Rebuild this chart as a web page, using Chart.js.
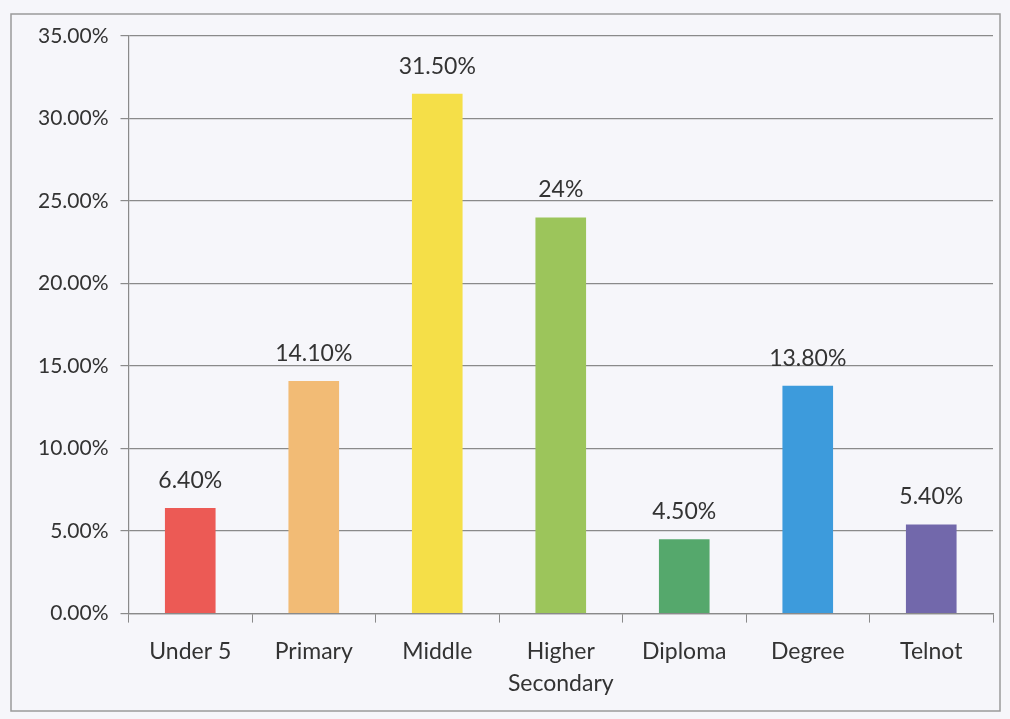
<!DOCTYPE html>
<html>
<head>
<meta charset="utf-8">
<script src="https://cdn.jsdelivr.net/npm/chart.js@4"></script>
<style>
  html, body { margin: 0; padding: 0; background: #f6f6fa; }
  #wrap { width: 1010px; height: 719px; position: relative; }
</style>
</head>
<body>
<div id="wrap"><canvas id="eduChart"></canvas></div>
<script>
const categories = ['Under 5', 'Primary', 'Middle', ['Higher', 'Secondary'], 'Diploma', 'Degree', 'Telnot'];
const shares = [0.064, 0.141, 0.315, 0.24, 0.045, 0.138, 0.054];
const valueLabels = ['6.40%', '14.10%', '31.50%', '24%', '4.50%', '13.80%', '5.40%'];
const barColors = ['#ec5a55', '#f2bb75', '#f5df48', '#9cc55b', '#55a86c', '#3d9bdc', '#7268ab'];

const fontFamily = 'Lato, "Noto Sans", sans-serif';

// frame + page tint behind the chart
const framePlugin = {
  id: 'frame',
  beforeDraw(chart) {
    const c = chart.ctx;
    c.save();
    c.fillStyle = '#f6f6fa';
    c.fillRect(0, 0, chart.width, chart.height);
    c.strokeStyle = '#9a9a9a';
    c.lineWidth = 1.5;
    c.strokeRect(11, 14, 989, 697);
    c.restore();
  }
};

// value labels above each bar
const valueLabelPlugin = {
  id: 'valueLabels',
  afterDatasetsDraw(chart) {
    const c = chart.ctx;
    const meta = chart.getDatasetMeta(0);
    c.save();
    c.fillStyle = '#333';
    c.font = '23px ' + fontFamily;
    c.textAlign = 'center';
    c.textBaseline = 'bottom';
    meta.data.forEach((bar, i) => {
      c.fillText(valueLabels[i], bar.x, bar.y - 16);
    });
    c.restore();
  }
};

const ctx = document.getElementById('eduChart').getContext('2d');
const chart = new Chart(ctx, {
  type: 'bar',
  data: {
    labels: categories,
    datasets: [
      {
        data: shares,
        backgroundColor: barColors,
        borderWidth: 0,
        categoryPercentage: 1,
        barPercentage: 0.41,
      },
    ],
  },
  options: {
    responsive: true,
    maintainAspectRatio: false,
    animation: false,
    layout: {
      padding: { left: 26, right: 17, top: 36, bottom: 6 },
    },
    plugins: {
      legend: { display: false },
      tooltip: { enabled: false },
    },
    scales: {
      x: {
        grid: {
          offset: true,
          drawOnChartArea: false,
          drawTicks: true,
          tickLength: 9,
          color: '#8a8a8a',
        },
        border: { color: '#8a8a8a', width: 1.2 },
        ticks: {
          color: '#333',
          font: { family: fontFamily, size: 23, lineHeight: 1.4 },
          padding: 13,
          maxRotation: 0,
        },
      },
      y: {
        min: 0,
        max: 0.35,
        ticks: {
          stepSize: 0.05,
          color: '#333',
          font: { family: fontFamily, size: 21 },
          padding: 12,
          callback: v => (v * 100).toFixed(2) + '%',
        },
        grid: {
          color: '#8a8a8a',
          lineWidth: 1.2,
          tickLength: 8,
        },
        border: { color: '#8a8a8a', width: 1.2 },
      },
    },
  },
  plugins: [framePlugin, valueLabelPlugin],
});
</script>
</body>
</html>
